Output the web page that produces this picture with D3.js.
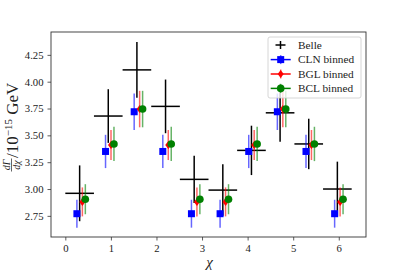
<!DOCTYPE html>
<html>
<head>
<meta charset="utf-8">
<script src="https://cdn.jsdelivr.net/npm/d3@7"></script>
<style>
body { margin: 0; background: #fff; }
text { font-family: "Liberation Serif", "DejaVu Serif", serif; fill: #222; }
</style>
</head>
<body>
<div id="chart"></div>
<script>
// bin centres in chi, 10 bins over [0, 2pi]
var nBins = 10;
var binWidth = 2 * Math.PI / nBins;
var chi = d3.range(nBins).map(function(i) { return (i + 0.5) * binWidth; });

// Belle measurement
var belleVal = [2.96, 3.68, 4.11, 3.77, 3.09, 2.99, 3.36, 3.71, 3.42, 3.00];
var belleErr = [0.26, 0.25, 0.26, 0.25, 0.22, 0.24, 0.23, 0.27, 0.235, 0.255];

// binned fits
var clnVal = [2.77, 3.35, 3.72, 3.35, 2.77, 2.77, 3.35, 3.72, 3.35, 2.77];
var clnErr = [0.13, 0.155, 0.17, 0.155, 0.13, 0.13, 0.155, 0.17, 0.155, 0.13];
var bglVal = [2.88, 3.41, 3.745, 3.41, 2.88, 2.88, 3.41, 3.745, 3.41, 2.88];
var bglErr = [0.135, 0.14, 0.17, 0.14, 0.135, 0.135, 0.14, 0.17, 0.14, 0.135];
var bclVal = [2.905, 3.42, 3.745, 3.42, 2.905, 2.905, 3.42, 3.745, 3.42, 2.905];
var bclErr = [0.14, 0.16, 0.17, 0.16, 0.14, 0.14, 0.16, 0.17, 0.16, 0.14];

var xTicks = [0, 1, 2, 3, 4, 5, 6];
var yTicks = [2.75, 3.00, 3.25, 3.50, 3.75, 4.00, 4.25];

var width = 407, height = 271;
var margin = {left: 51, right: 41, top: 32, bottom: 34};

var svg = d3.select("#chart").append("svg")
  .attr("width", width).attr("height", height);

var xMin = -0.05 * 2 * Math.PI, xMax = 1.05 * 2 * Math.PI;
var xScale = d3.scaleLinear().domain([xMin, xMax])
  .range([margin.left, width - margin.right]);
var yScale = d3.scaleLinear().domain([2.553, 4.463])
  .range([height - margin.bottom, margin.top]);

// axes
var xAxis = d3.axisBottom(xScale).tickValues(xTicks).tickSize(3.5).tickPadding(4)
  .tickFormat(d3.format("d"));
var yAxis = d3.axisLeft(yScale).tickValues(yTicks).tickSize(3.5).tickPadding(4)
  .tickFormat(d3.format(".2f"));

var gx = svg.append("g").attr("transform", "translate(0," + (height - margin.bottom) + ")").call(xAxis);
var gy = svg.append("g").attr("transform", "translate(" + margin.left + ",0)").call(yAxis);
[gx, gy].forEach(function(g) {
  g.select(".domain").remove();
  g.selectAll("line").attr("stroke", "#333").attr("stroke-width", 0.8);
  g.selectAll("text").attr("font-size", 10.7).attr("fill", "#222")
    .style("font-family", "Liberation Serif, serif");
});

// Belle: black cross error bars
var belle = svg.append("g");
chi.forEach(function(c, i) {
  belle.append("line")
    .attr("x1", xScale(c - binWidth / 2)).attr("x2", xScale(c + binWidth / 2))
    .attr("y1", yScale(belleVal[i])).attr("y2", yScale(belleVal[i]))
    .attr("stroke", "#000").attr("stroke-width", 1.5);
  belle.append("line")
    .attr("x1", xScale(c)).attr("x2", xScale(c))
    .attr("y1", yScale(belleVal[i] - belleErr[i])).attr("y2", yScale(belleVal[i] + belleErr[i]))
    .attr("stroke", "#000").attr("stroke-width", 1.5);
});

var series = [
  {name: "CLN binned", vals: clnVal, errs: clnErr, color: "#0000ff", off: -0.06, marker: "square"},
  {name: "BGL binned", vals: bglVal, errs: bglErr, color: "#ff0000", off: 0.06, marker: "diamond"},
  {name: "BCL binned", vals: bclVal, errs: bclErr, color: "#008000", off: 0.125, marker: "circle"}
];

function drawMarker(g, type, cx, cy, color) {
  if (type === "square") {
    g.append("rect").attr("x", cx - 3.5).attr("y", cy - 3.5)
      .attr("width", 7).attr("height", 7).attr("fill", color);
  } else if (type === "diamond") {
    g.append("path")
      .attr("d", "M" + cx + "," + (cy - 4) + "L" + (cx + 3) + "," + cy + "L" + cx + "," + (cy + 4) + "L" + (cx - 3) + "," + cy + "Z")
      .attr("fill", color);
  } else {
    g.append("circle").attr("cx", cx).attr("cy", cy).attr("r", 3.8).attr("fill", color);
  }
}

series.forEach(function(s) {
  var g = svg.append("g");
  chi.forEach(function(c, i) {
    var x = xScale(c + s.off);
    g.append("line")
      .attr("x1", x).attr("x2", x)
      .attr("y1", yScale(s.vals[i] - s.errs[i])).attr("y2", yScale(s.vals[i] + s.errs[i]))
      .attr("stroke", s.color).attr("stroke-width", 1.5).attr("stroke-opacity", 0.6);
    drawMarker(g, s.marker, x, yScale(s.vals[i]), s.color);
  });
});

// frame
svg.append("rect")
  .attr("x", margin.left).attr("y", margin.top)
  .attr("width", width - margin.left - margin.right)
  .attr("height", height - margin.top - margin.bottom)
  .attr("fill", "none").attr("stroke", "#333").attr("stroke-width", 0.9);

// legend
var lg = svg.append("g").attr("transform", "translate(268,37)");
lg.append("rect").attr("width", 93).attr("height", 61).attr("rx", 2)
  .attr("fill", "#fff").attr("fill-opacity", 0.8)
  .attr("stroke", "#ccc").attr("stroke-width", 0.8);
var rowY = [8, 22.6, 37, 51.4];
// Belle entry
lg.append("line").attr("x1", 7.5).attr("x2", 17.5).attr("y1", rowY[0]).attr("y2", rowY[0])
  .attr("stroke", "#000").attr("stroke-width", 1.5);
lg.append("line").attr("x1", 12.5).attr("x2", 12.5).attr("y1", rowY[0] - 4).attr("y2", rowY[0] + 4)
  .attr("stroke", "#000").attr("stroke-width", 1.5);
lg.append("text").attr("x", 30).attr("y", rowY[0] + 3.6).attr("font-size", 11.3).text("Belle");
series.forEach(function(s, k) {
  var y = rowY[k + 1];
  lg.append("line").attr("x1", 2.7).attr("x2", 22.7).attr("y1", y).attr("y2", y)
    .attr("stroke", s.color).attr("stroke-width", 1.5);
  lg.append("line").attr("x1", 12.7).attr("x2", 12.7).attr("y1", y - 4.5).attr("y2", y + 4.5)
    .attr("stroke", s.color).attr("stroke-width", 1.5).attr("stroke-opacity", 0.6);
  drawMarker(lg, s.marker, 12.7, y, s.color);
  lg.append("text").attr("x", 30).attr("y", y + 3.6).attr("font-size", 11.3).text(s.name);
});

// x label
svg.append("text").attr("x", (margin.left + width - margin.right) / 2 + 1).attr("y", 267)
  .attr("text-anchor", "middle").attr("font-size", 15).attr("font-style", "italic")
  .text("χ");

// y label: dΓ/dχ / 10^-15 GeV
var yl = svg.append("g").attr("transform", "translate(18,134.5) rotate(-90)");
var fx = -37.5;
yl.append("text").attr("x", fx + 7).attr("y", -8.5).attr("text-anchor", "middle")
  .attr("font-size", 10).attr("font-style", "italic").text("dΓ");
yl.append("line").attr("x1", fx + 0.5).attr("x2", fx + 13.5).attr("y1", -6.5).attr("y2", -6.5)
  .attr("stroke", "#222").attr("stroke-width", 0.7);
yl.append("text").attr("x", fx + 7).attr("y", 1.5).attr("text-anchor", "middle")
  .attr("font-size", 10).attr("font-style", "italic").text("dχ");
var rest = yl.append("text").attr("x", fx + 14).attr("y", 0).attr("font-size", 17);
rest.append("tspan").text("/10");
rest.append("tspan").attr("dy", -6).attr("font-size", 11).text("−15");
rest.append("tspan").attr("dy", 6).attr("font-size", 17).text(" GeV");
</script>
</body>
</html>
